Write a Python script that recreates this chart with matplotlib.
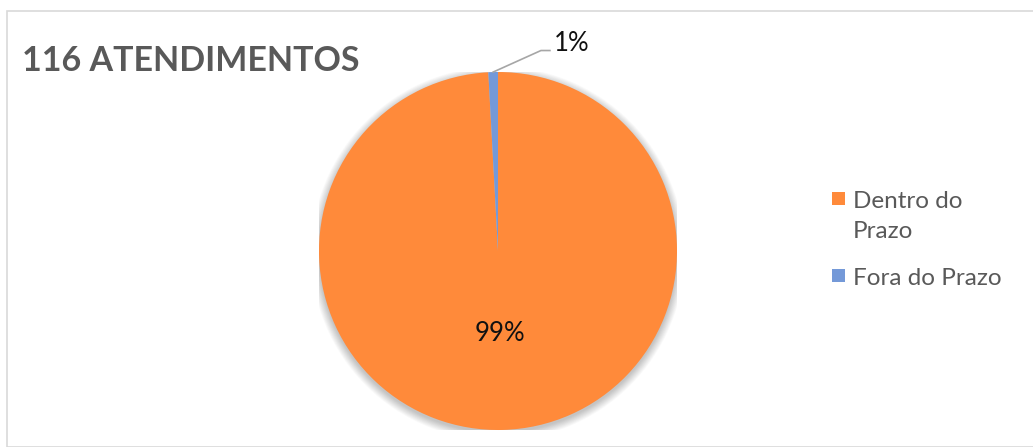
import matplotlib.pyplot as plt
from matplotlib.patches import Rectangle, Circle
import numpy as np

plt.rcParams['font.family'] = ['Lato', 'DejaVu Sans']

# ---------- data ----------
title = "116 ATENDIMENTOS"
categories = ["Dentro do Prazo", "Fora do Prazo"]
legend_labels = ["Dentro do\nPrazo", "Fora do Prazo"]
counts = [115, 1]
colors = ["#FF8A3A", "#7499D8"]

W, H = 1033, 447
fig = plt.figure(figsize=(W / 100, H / 100), dpi=100)
fig.patch.set_facecolor("white")

# chart frame
fig.patches.append(Rectangle((7 / W, 0), 1.2, 1 - 11 / H, transform=fig.transFigure,
                             fill=False, edgecolor="#D9D9D9", linewidth=1.2))

# pie axes, centre (498, 251) px, radius 179 px
cx, cy, r = 498, 251, 179
ax = fig.add_axes([(cx - r) / W, (H - cy - r) / H, 2 * r / W, 2 * r / H])

# soft shadow under the pie
for i in range(12):
    ax.add_patch(Circle((0.0, -0.014), 1.0 + 0.004 * i, color="black",
                        alpha=0.02, lw=0, zorder=0))

wedges, _ = ax.pie(counts, colors=colors, startangle=90, counterclock=False,
                   radius=1.0, wedgeprops=dict(linewidth=0))
for w in wedges:
    w.set_zorder(2)

ax.set_xlim(-1, 1)
ax.set_ylim(-1, 1)
ax.set_aspect("equal")
ax.axis("off")

total = sum(counts)
pcts = [f"{round(100 * c / total):.0f}%" for c in counts]

# big slice label inside
w0 = wedges[0]
mid = np.deg2rad((w0.theta1 + w0.theta2) / 2)
ax.text(0.46 * np.cos(mid), 0.46 * np.sin(mid), pcts[0], ha="center", va="center",
        fontsize=18.5, color="#111111", zorder=3)

# small slice label with leader line
w1 = wedges[1]
mid = np.deg2rad((w1.theta1 + w1.theta2) / 2)
x0, y0 = np.cos(mid), np.sin(mid)
ax.plot([x0, 0.24, 0.29], [y0, 1.12, 1.12], color="#A6A6A6", lw=1.2,
        clip_on=False, zorder=3)
ax.text(0.31, 1.16, pcts[1], ha="left", va="center", fontsize=18.5,
        color="#111111", clip_on=False)

# title
fig.text(22 / W, 1 - 61 / H, title, ha="left", va="center", fontsize=24.5,
         fontweight="bold", color="#595959")

# legend
leg_y = [199, 276]
for lab, col, y in zip(legend_labels, colors, leg_y):
    fig.patches.append(Rectangle((832 / W, 1 - (y + 6) / H), 13 / W, 13 / H,
                                 transform=fig.transFigure, facecolor=col,
                                 edgecolor="none"))
    fig.text(853 / W, 1 - (y - 8) / H, lab, ha="left", va="top", fontsize=17.5,
             color="#595959", linespacing=1.55)

fig.savefig("out.png", dpi=100)
